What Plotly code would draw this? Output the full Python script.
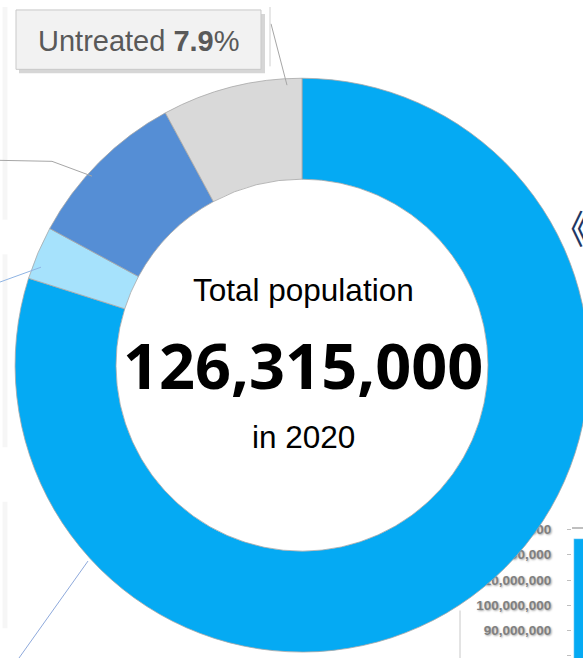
import plotly.graph_objects as go

# window is 583x658; the figure is a little wider so that the donut is
# cropped at the right edge exactly like in the reference screenshot
FW, H = 604, 658

# ---- data ----
segments = ["Others", "Treated group A", "Treated group B", "Untreated"]
shares = [79.9, 3.0, 9.2, 7.9]
seg_colors = ["#05aaf3", "#a6e2fc", "#558ed5", "#d9d9d9"]

total_population = 126315000
year = 2020

bar_cats = ["Total"]
bar_vals = [126315000]
bar_ticks = [80000000, 90000000, 100000000, 110000000, 120000000, 130000000]


def px(x):
    return x / FW


def py(y):
    return 1 - y / H


# pie placement (pixels)
cx, cy, r = 302, 362, 290

fig = go.Figure()

# partial bar chart at the bottom-right (drawn below the donut)
fig.add_trace(go.Bar(
    x=bar_cats, y=bar_vals, marker_color="#05aaf3", width=0.8,
    xaxis="x2", yaxis="y2", showlegend=False, hoverinfo="skip",
))

fig.add_trace(go.Pie(
    labels=segments, values=shares, sort=False, direction="clockwise",
    rotation=0, hole=188 / r,
    marker=dict(colors=seg_colors, line=dict(color="#a8a8a8", width=0.8)),
    textinfo="none", showlegend=False,
    domain=dict(x=[px(cx - r), px(cx + r)], y=[py(cy + r), py(cy - r)]),
))

axis_font = dict(family="Liberation Sans", size=13.5, color="#7f7f7f",
                 weight="bold", shadow="1px 1px 2px rgba(0,0,0,0.35)")

fig.update_layout(
    width=FW, height=H,
    margin=dict(l=0, r=0, t=0, b=0),
    paper_bgcolor="white", plot_bgcolor="white",
    xaxis2=dict(domain=[px(572), 1], range=[-0.45, 0.45], anchor="y2",
                side="top", showline=True, linecolor="#bfbfbf", linewidth=2,
                showticklabels=False, ticks="", showgrid=False, zeroline=False,
                fixedrange=True),
    yaxis2=dict(domain=[0, py(528)], range=[79200000, 130000000], anchor="x2",
                tickvals=bar_ticks, tickformat=",d", ticks="outside",
                ticklen=4, tickcolor="#bfbfbf", tickfont=axis_font,
                ticklabelstandoff=13, showgrid=False, zeroline=False,
                showline=False, fixedrange=True),
)

shapes = []
# faint shadows of neighbouring boxes on the left edge
for y0, y1 in [(0, 215), (250, 445), (500, 628)]:
    shapes.append(dict(type="line", xref="paper", yref="paper",
                       x0=px(5), x1=px(5), y0=py(y0), y1=py(y1),
                       line=dict(color="rgba(0,0,0,0.035)", width=5)))
# frame line near bottom
shapes.append(dict(type="line", xref="paper", yref="paper",
                   x0=px(460), x1=px(460), y0=py(610), y1=py(658),
                   line=dict(color="#c8c8c8", width=1)))
# label box shadow + box
shapes.append(dict(type="rect", xref="paper", yref="paper",
                   x0=px(19), x1=px(265), y0=py(7), y1=py(67),
                   fillcolor="rgba(0,0,0,0.16)", line=dict(width=0), layer="above"))
shapes.append(dict(type="rect", xref="paper", yref="paper",
                   x0=px(16), x1=px(261), y0=py(3), y1=py(63),
                   fillcolor="#f2f2f2", line=dict(color="#c9c9c9", width=1), layer="above"))
# leader lines
shapes.append(dict(type="line", xref="paper", yref="paper",
                   x0=px(271), x1=px(287), y0=py(17), y1=py(79),
                   line=dict(color="#a6a6a6", width=1), layer="above"))
shapes.append(dict(type="line", xref="paper", yref="paper",
                   x0=px(270), x1=px(270), y0=py(0), y1=py(60),
                   line=dict(color="#d0d0d0", width=1), layer="above"))
shapes.append(dict(type="path", xref="paper", yref="paper",
                   path=f"M {px(0)} {py(155)} L {px(52)} {py(156)} L {px(92)} {py(171)}",
                   line=dict(color="#a6a6a6", width=1), layer="above"))
shapes.append(dict(type="line", xref="paper", yref="paper",
                   x0=px(0), x1=px(41), y0=py(278), y1=py(263),
                   line=dict(color="#8fb4e3", width=1), layer="above"))
shapes.append(dict(type="line", xref="paper", yref="paper",
                   x0=px(19), x1=px(88), y0=py(658), y1=py(560),
                   line=dict(color="#8ea9db", width=1), layer="above"))

fig.update_layout(shapes=shapes)

ann = []
ann.append(dict(xref="paper", yref="paper", x=px(139), y=py(34),
                text="Untreated <b>7.9</b>%", showarrow=False,
                font=dict(family="Liberation Sans", size=29, color="#595959"),
                xanchor="center", yanchor="middle"))
ann.append(dict(xref="paper", yref="paper", x=px(303), y=py(286),
                text="Total population", showarrow=False,
                font=dict(family="Liberation Sans", size=31.5, color="#000000"),
                xanchor="center", yanchor="middle"))
ann.append(dict(xref="paper", yref="paper", x=px(303), y=py(361),
                text=f"<b>{total_population:,}</b>", showarrow=False,
                font=dict(family="Noto Sans", size=63, color="#000000"),
                xanchor="center", yanchor="middle"))
ann.append(dict(xref="paper", yref="paper", x=px(303), y=py(435),
                text=f"in {year}", showarrow=False,
                font=dict(family="Liberation Sans", size=31.5, color="#000000"),
                xanchor="center", yanchor="middle"))
ann.append(dict(xref="paper", yref="paper", x=px(549), y=py(221),
                text="《", showarrow=False,
                font=dict(family="Noto Sans CJK JP", size=39, color="#1f3864"),
                xanchor="left", yanchor="middle"))
fig.update_layout(annotations=ann)

fig.write_html(
    "out.html",
    config={"displayModeBar": False},
    post_script="document.body.style.margin='0px';"
                "document.documentElement.style.overflow='hidden';"
                "document.body.style.overflow='hidden';",
)
